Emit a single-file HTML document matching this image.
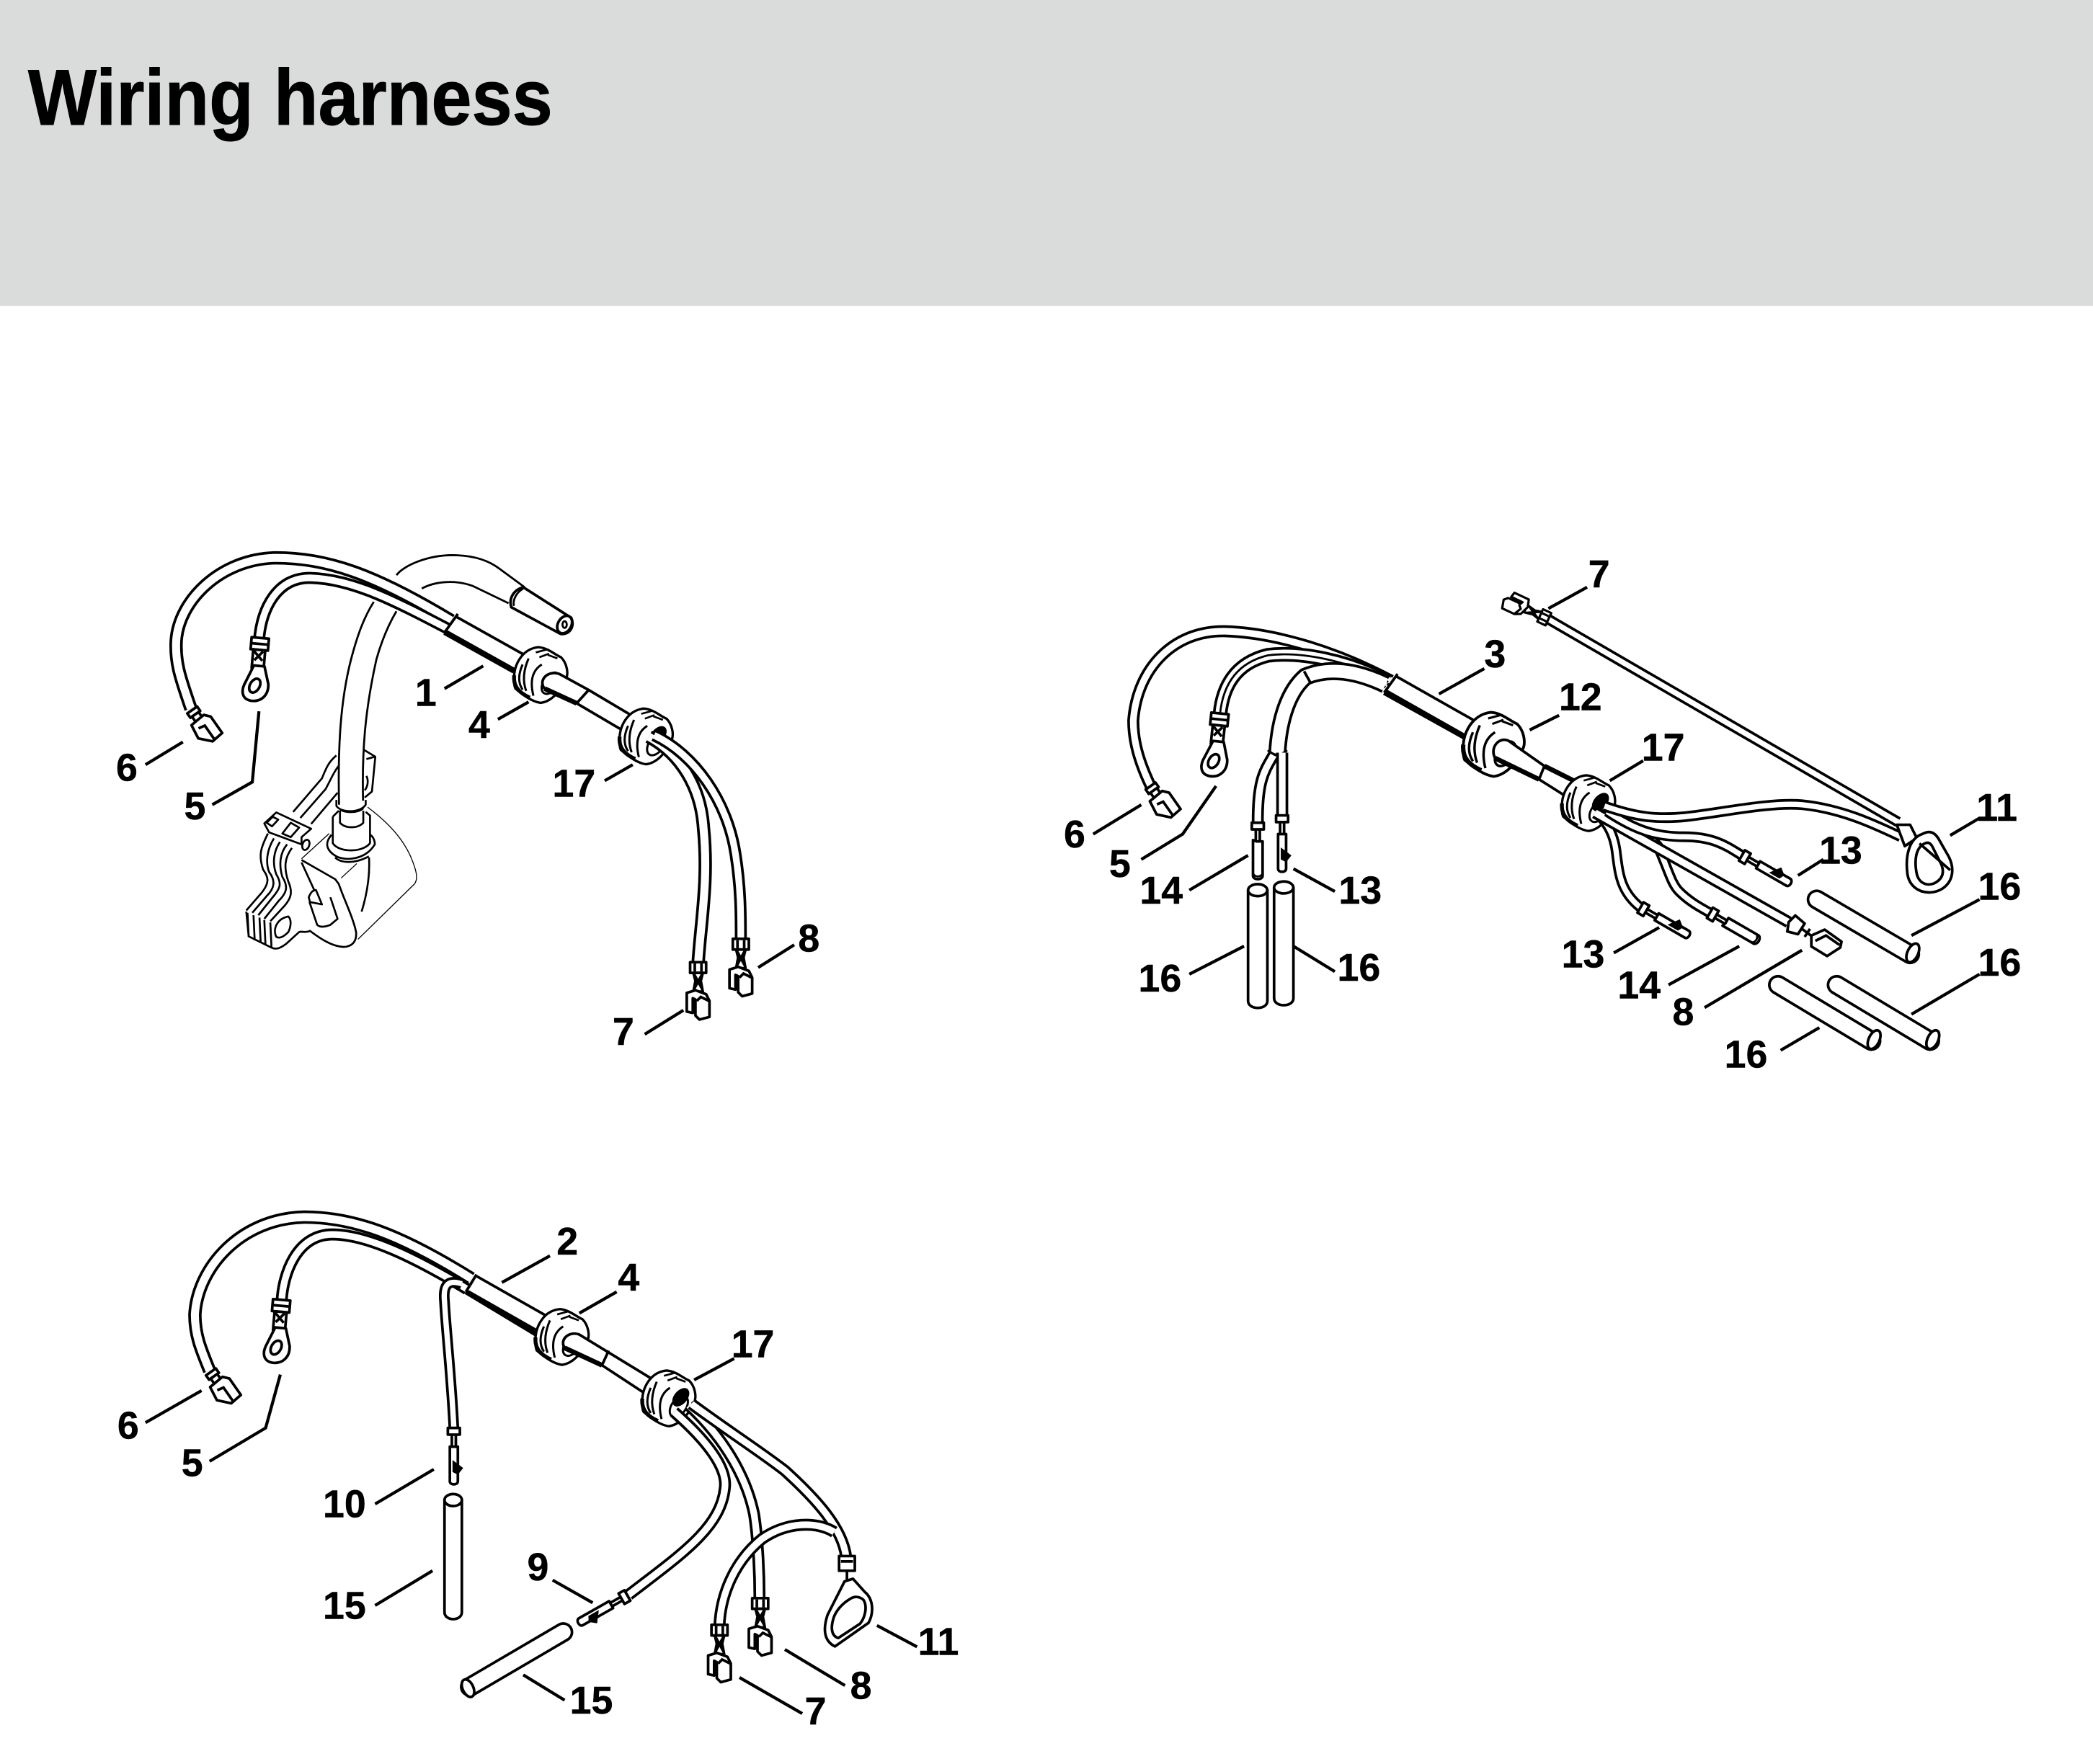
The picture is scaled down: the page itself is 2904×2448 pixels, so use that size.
<!DOCTYPE html>
<html><head><meta charset="utf-8"><style>
html,body{margin:0;padding:0;background:#fff}
svg{display:block}
.t{font-family:"Liberation Sans",sans-serif;font-weight:700;font-size:29px;text-anchor:middle;fill:#000;stroke:#000;stroke-width:.25}
.l{fill:none;stroke:#000;stroke-width:2.3}
.n{fill:#fff;stroke:#000;stroke-width:2;stroke-linejoin:round}
.m{fill:none;stroke:#000;stroke-width:1.5}
.s{fill:none;stroke:#000;stroke-width:2}
.h{fill:none;stroke:#000;stroke-width:3.6}
.k,.f{fill:none}
.k{stroke:#000}.f{stroke:#fff}
.k15{stroke-width:15}.f15{stroke-width:11}
.k13{stroke-width:13.5}.f13{stroke-width:9.5}
.k11{stroke-width:11}.f11{stroke-width:7}
.k10{stroke-width:10}.f10{stroke-width:6}
.k9{stroke-width:9}.f9{stroke-width:5}
.k8{stroke-width:8}.f8{stroke-width:4}
.k7{stroke-width:7.5}.f7{stroke-width:3.5}
</style></head><body>
<svg xmlns="http://www.w3.org/2000/svg" width="2904" height="2448" viewBox="0 0 1568 1321.8">
<defs>
<g id="gr" transform="translate(-37.8 -42.3) scale(.18)">
  <path d="M100 260C95 190 135 125 200 118C240 120 270 150 295 160C320 185 325 225 318 245C290 310 250 345 210 350C175 345 140 320 105 290C100 280 100 270 100 260Z" fill="#fff" stroke="#000" stroke-width="10"/>
  <path d="M100 235C95 285 125 310 165 328" fill="none" stroke="#000" stroke-width="16"/>
  <path d="M135 190C115 235 118 270 135 295M160 165C138 215 135 260 150 300M215 190C175 215 165 260 180 320" fill="none" stroke="#000" stroke-width="9"/>
  <path d="M190 140L235 128M240 150L280 165M205 160L245 145" fill="none" stroke="#000" stroke-width="8"/>
  <ellipse cx="252" cy="268" rx="30" ry="50" transform="rotate(35 252 268)" fill="#fff" stroke="#000" stroke-width="9"/>
</g>
<g id="gr17">
  <use href="#gr"/>
  <ellipse cx="9" cy="-1" rx="5" ry="8" transform="rotate(40 9 -1)" fill="#000"/>
</g>
<g id="bl">
  <path class="n" d="M-6 0H6V8H-6Z"/><path class="s" d="M-2.5 1V7M2.5 1V7"/>
  <path class="n" d="M-3.5 8L-2 14L-3.5 22H3.5L2 14L3.5 8Z"/><path class="s" d="M-3 9L3 20M3 9L-3 20"/>
  <path class="n" d="M-8.5 23L-2 21L6 24L8.5 29V41L1 43L-2 40V28L-4 27V38L-8.5 37Z"/><path class="s" d="M-1 29L2 26L8 29"/>
</g>
<g id="sh">
  <path class="n" d="M-4.5 0H4.5V4H-4.5Z"/><path class="n" d="M-3 4H3V9H-3Z"/>
  <path class="n" d="M-7 9L5 8L8.5 12V27L-1 28L-8.5 20Z"/><path class="s" d="M-4 14L1 15V27"/>
</g>
<g id="ring">
  <path class="n" d="M-6.5 0H6.5V9H-6.5Z"/><path class="s" d="M-6 4.5H6"/>
  <path class="n" d="M-4.5 9H4.5V23H-4.5Z"/><path class="s" d="M-4 10L3 17M3 10L-3 17"/>
  <path class="n" d="M-3 21H5L9 34C10 42 5 48 -3 47.5C-9 47 -11 42 -9 36Z"/>
  <ellipse cx="-1" cy="36" rx="3.6" ry="5.6" class="n" transform="rotate(25 -1 36)"/>
</g>
<g id="p14">
  <path class="n" d="M-4.5 0H4.5V5H-4.5Z"/><path class="s" d="M-1.5 5V14M1.5 5V14"/>
  <path class="n" d="M-3.6 13L-1 14H3.6V40C3 43 -3 43 -3.6 40Z"/><path class="m" d="M-3.6 38C-2 41 2 41 3.6 38"/>
</g>
<g id="p13">
  <path class="n" d="M-4.5 0H4.5V5H-4.5Z"/><path class="s" d="M-1.5 5V14M1.5 5V14"/>
  <path class="n" d="M-3 14H3V40C3 43 -3 43 -3 40Z"/><path d="M-1 24L7 30L3 35L-1 33Z" fill="#000"/>
</g>
<path id="d1a" d="M143 531C136 510 131 498 132 480C134 450 165 419 206 418C245 418 280 430 338 465"/>
<path id="d1b" d="M194 480C196 455 208 433 232 433C265 434 295 450 341 474"/>
<path id="d1c" d="M486 552C510 565 525 590 527 620C531 660 525 690 523 722"/>
<path id="d1d" d="M490 551C520 565 545 600 551 640C555 665 555 685 555 704"/>
<path id="d2a" d="M862 589C853 570 849 555 849 540C852 500 880 472 918 473C950 474 995 485 1042 510"/>
<path id="d2b" d="M914 535C916 515 925 497 950 491C975 488 1010 495 1040 511"/>
<path id="d2c" d="M957 564C958 545 963 520 978 507C995 500 1015 502 1038 513"/>
<path id="d2d" d="M1202 604C1225 612 1240 614 1262 612C1290 609 1325 601 1350 603C1380 606 1405 618 1424 627"/>
<path id="d2e" d="M1204 608C1225 622 1240 627 1262 627C1285 627 1295 635 1305 641"/>
<path id="d2f" d="M1195 609L1340 691"/>
<path id="d2g" d="M1199 610C1222 618 1235 625 1242 634C1250 652 1252 662 1258 668C1265 675 1272 679 1281 684"/>
<path id="d2h" d="M1199 612C1207 620 1210 630 1211 640C1213 655 1214 668 1229 680"/>
<path id="d2i" d="M1160 464L1422 616"/>
<path id="d2l" d="M954 566C947 578 942 585 942.3 617"/>
<path id="d2r" d="M960.6 564V611"/>
<path id="d3a" d="M157 1027C150 1010 146 1000 146 985C148 950 180 913 228 912C265 912 300 925 353 958"/>
<path id="d3b" d="M211 975C212 955 222 925 249 925C275 925 310 942 350 966"/>
<path id="d3c" d="M346 962C334 958 332 965 333 975C334 995 338 1030 340 1070"/>
<path id="d3d" d="M505 1058C530 1080 545 1100 543 1115C540 1145 510 1165 471 1195"/>
<path id="d3e" d="M516 1053C545 1080 560 1110 565 1135C568 1155 569 1180 569 1198"/>
<path id="d3f" d="M518 1052C545 1072 570 1088 588 1102C610 1122 632 1145 634 1168"/>
<path id="d3g" d="M625 1148C612 1140 590 1140 571 1153C550 1170 540 1195 539 1218"/>
</defs>

<rect width="1568" height="1321.8" fill="#fff"/>
<rect width="1568" height="229.3" fill="#dadcdb"/>
<text x="21" y="93.5" font-family="Liberation Sans, sans-serif" font-weight="700" font-size="59" textLength="393" lengthAdjust="spacingAndGlyphs" stroke="#000" stroke-width=".5">Wiring harness</text>

<!-- DIAGRAM 1 -->
<g>
<path class="m" d="M254 603C253 560 255 525 263 494C268 475 273 462 280 451M272 600C271 560 274 530 282 494C286 480 291 468 297 458M297 431C302 424 320 416 339 416C355 416 366 420 374 426L393 440M316 441C325 436 340 434 354 439L381 452"/>
<path class="n" d="M392 440C385 442 381 448 383 455L420 475C426 476 431 470 428 463Z"/>
<ellipse cx="423" cy="468" rx="5" ry="7" class="n" transform="rotate(30 423 468)"/><ellipse cx="423" cy="468" rx="1.6" ry="2.5" class="m"/>
<path class="m" d="M392 441C387 444 384 449 385 454"/>
<!-- coil -->
<g transform="translate(162 540) scale(.18)" fill="none" stroke="#000" stroke-width="8" stroke-linejoin="round">
  <path d="M500 145C470 170 460 190 440 240L320 380M508 190C485 220 475 250 455 285L350 405M505 300L395 430"/>
  <path d="M612 120L662 150L648 295L618 320M625 160L660 150M625 230C635 250 630 275 618 290"/>
  <path d="M500 330V355C520 385 600 385 622 350V330M515 370C540 385 590 385 612 365"/>
  <path fill="#fff" d="M485 400V510C510 555 610 555 640 510V395L620 380C610 400 530 390 510 375Z" stroke="none"/>
  <path d="M515 375V425C535 450 590 450 612 425V375M485 400V510C510 550 610 550 640 510V395L622 380M510 375L485 400"/>
  <path d="M480 475C445 515 465 545 500 565C540 585 620 580 660 515C660 495 650 480 640 475M495 570C520 595 580 595 635 565"/>
  <path stroke-width="4" d="M630 360C710 420 780 490 815 580C835 630 840 660 825 680L590 910M355 575L470 470M520 655L585 595"/>
  <path d="M355 580L495 660L510 680C530 740 570 820 582 880C585 915 570 940 530 942C480 940 430 905 390 875C370 885 355 875 345 880L290 930C270 945 250 955 230 945L135 898L125 795M355 590L410 710"/>
  <path d="M636 570C640 650 625 730 605 795"/>
  <path d="M385 735C395 710 405 705 415 705L440 765L390 755ZM475 735L505 825L475 850C450 860 430 860 420 850L388 755"/>
  <path d="M300 815C250 825 235 870 250 900C265 910 285 895 300 880C310 860 315 830 300 815Z"/>
  <ellipse cx="373" cy="517" rx="14" ry="22" transform="rotate(20 373 517)"/>
  <path d="M215 470C185 530 175 560 195 620C215 650 225 670 190 715L125 790M240 490C210 540 205 590 220 630C250 670 240 700 210 730L150 800M265 505C235 550 235 600 250 640C275 680 265 700 235 735L175 810M295 515C265 550 260 600 275 650C300 690 295 715 260 750L200 825M315 530C285 570 280 610 300 670C320 715 310 740 285 770L225 835"/>
  <path d="M130 800L135 900M155 810L160 915M180 820L185 925M200 830L205 935M225 840L230 945"/>
  <path d="M200 428L250 382L395 450L355 485V515L220 465Z" fill="#fff"/>
  <path d="M210 425L235 400L258 412L232 440ZM275 470L310 425L345 445L310 485Z"/>
</g>
<use href="#d1a" class="k k10"/><use href="#d1a" class="f f10"/>
<use href="#d1b" class="k k9"/><use href="#d1b" class="f f9"/>
<path d="M338 467.5L389 496" class="k k15"/><path d="M338 467.5L389 496" class="f f15"/>
<path d="M343 460L333 474" class="s"/><path d="M333 474L385 503" class="h"/>
<use href="#gr" transform="translate(405 506)"/>
<path class="n" d="M419 505L441 517L473 536L466 547L432 527L408 516C403 510 410 502 419 505Z"/>
<path class="s" d="M441 517L432 527"/><path class="h" d="M408 516L432 527"/>
<use href="#gr17" transform="translate(484 552)"/>
<use href="#d1c" class="k k10"/><use href="#d1c" class="f f10"/>
<use href="#d1d" class="k k9"/><use href="#d1d" class="f f9"/>
<use href="#bl" transform="translate(523 721)"/>
<use href="#bl" transform="translate(555 703.5)"/>
<use href="#ring" transform="translate(195 478) rotate(5)"/>
<use href="#sh" transform="translate(144 532) rotate(-35)"/>
<path class="l" d="M333 516L362 499M373 539L396 526M453 585L474 573M568 725L595 708M483 775L512 757M109 573L137 556M159 603L189 586L194 533"/>
<text class="t" x="319" y="529">1</text><text class="t" x="359" y="553">4</text><text class="t" x="430" y="597">17</text><text class="t" x="606" y="713">8</text><text class="t" x="467" y="783">7</text><text class="t" x="95" y="585">6</text><text class="t" x="146" y="614">5</text>
</g>

<!-- DIAGRAM 2 -->
<g>
<use href="#d2a" class="k k9"/><use href="#d2a" class="f f9"/>
<use href="#d2b" class="k k11"/><use href="#d2b" class="f f11"/><use href="#d2b" class="m"/>
<use href="#d2c" class="k k13"/><use href="#d2c" class="f f13"/>
<path class="s" d="M977 503L982 512"/>
<path class="n" d="M950 562C954 567 960 567 964 562" style="fill:none"/>
<path d="M1042 512L1102 546" class="k k15"/><path d="M1042 512L1102 546" class="f f15"/>
<path class="s" d="M1047 505L1037 519"/><path class="h" d="M1037 519L1098 553"/>
<use href="#gr" transform="translate(1119 558) scale(1.15)"/>
<path class="n" d="M1130 555L1157 574L1179 585L1172 596L1153 584L1120 568C1116 560 1123 552 1130 555Z"/>
<path class="s" d="M1157 574L1153 584"/><path class="h" d="M1120 568L1153 584M1157 574L1179 585"/>
<use href="#gr17" transform="translate(1190 602)"/>
<use href="#d2i" class="k k8"/><use href="#d2i" class="f f8"/>
<use href="#d2h" class="k k8"/><use href="#d2h" class="f f8"/>
<use href="#d2g" class="k k8"/><use href="#d2g" class="f f8"/>
<use href="#d2f" class="k k9"/><use href="#d2f" class="f f9"/>
<use href="#d2e" class="k k8"/><use href="#d2e" class="f f8"/>
<use href="#d2d" class="k k8"/><use href="#d2d" class="f f8"/>
<!-- split -->
<use href="#d2l" class="k k9"/><use href="#d2l" class="f f9"/>
<use href="#d2r" class="k k9"/><use href="#d2r" class="f f9"/>
<use href="#p14" transform="translate(942.3 616.5)"/>
<use href="#p13" transform="translate(960.5 611)"/>
<!-- terminals -->
<use href="#bl" transform="translate(1160 464) rotate(115) scale(.85)"/>
<path class="n" d="M1340 691L1345 686L1352 692L1347 700L1339 698Z"/><path class="s" d="M1350 696L1358 702M1352 702L1356 696"/>
<path class="n" d="M1357 701L1367 696.6L1379.6 705.6L1378.7 710L1368.8 716.4L1357 709.2Z"/><path class="s" d="M1360 705L1368 701L1378 708"/>
<use href="#p13" transform="translate(1305 641) rotate(-60)"/>
<use href="#p13" transform="translate(1229 680) rotate(-60)"/>
<use href="#p14" transform="translate(1281 684) rotate(-60)"/>
<use href="#ring" transform="translate(914 534.6) rotate(6)"/>
<use href="#sh" transform="translate(862 589) rotate(-35)"/>
<path class="n" d="M1421 618L1431 618L1436 628L1427 634Z"/>
<path class="n" fill-rule="evenodd" d="M1440 625C1431 628 1427 640 1429 655C1431 668 1445 672 1455 666C1464 660 1464 650 1460 642L1452 628C1448 622 1444 623 1440 625ZM1442 632C1435 635 1434 645 1436 655C1438 663 1446 665 1452 660C1457 656 1456 650 1453 645L1448 635C1446 631 1444 631 1442 632Z"/>
<path class="s" d="M1438 632L1461 652"/>
<!-- vertical tubes -->
<path class="n" d="M935 667V750C935 757 949.5 757 949.5 750V667Z"/><ellipse class="n" cx="942.2" cy="667" rx="7.2" ry="4.5"/>
<path class="n" d="M954.5 665V748C954.5 755 969 755 969 748V665Z"/><ellipse class="n" cx="961.7" cy="665" rx="7.2" ry="4.5"/>
<!-- diagonal tubes -->
<path class="k k15" stroke-linecap="round" d="M1361 674L1431 715"/><path class="f f15" stroke-linecap="round" d="M1361 674L1431 715"/><ellipse class="n" cx="1433" cy="714" rx="4" ry="7.5" transform="rotate(25 1433 714)"/>
<path class="k k15" stroke-linecap="round" d="M1376 738L1446 780"/><path class="f f15" stroke-linecap="round" d="M1376 738L1446 780"/><ellipse class="n" cx="1448" cy="779" rx="4" ry="7.5" transform="rotate(25 1448 779)"/>
<path class="k k15" stroke-linecap="round" d="M1332 738L1402 780"/><path class="f f15" stroke-linecap="round" d="M1332 738L1402 780"/><ellipse class="n" cx="1404" cy="779" rx="4" ry="7.5" transform="rotate(25 1404 779)"/>
<path class="l" d="M1160 456L1189 440M1078 520L1112 501M1146 547L1168 536M1206 585L1231 570M1461 626L1483 613M1347 656L1366 644M1432 701L1483 674M1432 760L1483 730M819 625L855 603M855 644L886 625L911 589M891 667L935 641M969 651L1000 668M891 730L932 709M969 709L1000 728M1209 714L1243 695M1250 738L1303 709M1277 755L1350 712M1334 787L1363 770"/>
<text class="t" x="1198" y="440">7</text><text class="t" x="1120" y="500">3</text><text class="t" x="1184" y="532">12</text><text class="t" x="1246" y="570">17</text><text class="t" x="1496" y="615">11</text><text class="t" x="1379" y="647">13</text><text class="t" x="1498" y="674">16</text><text class="t" x="1498" y="731">16</text><text class="t" x="805" y="635">6</text><text class="t" x="839" y="657">5</text><text class="t" x="870" y="677">14</text><text class="t" x="1019" y="677">13</text><text class="t" x="869" y="743">16</text><text class="t" x="1018" y="735">16</text><text class="t" x="1186" y="725">13</text><text class="t" x="1228" y="748">14</text><text class="t" x="1261" y="768">8</text><text class="t" x="1308" y="800">16</text>
</g>

<!-- DIAGRAM 3 -->
<g>
<use href="#d3a" class="k k10"/><use href="#d3a" class="f f10"/>
<use href="#d3b" class="k k9"/><use href="#d3b" class="f f9"/>
<use href="#d3c" class="k k8"/><use href="#d3c" class="f f8"/>
<path d="M354 962L405 991" class="k k15"/><path d="M354 962L405 991" class="f f15"/>
<path class="s" d="M357 955L349 968"/><path class="h" d="M349 968L402 1000"/>
<use href="#gr" transform="translate(421 1002)"/>
<path class="n" d="M434 1000L488 1033L483 1044L451 1023L423 1010C419 1004 426 997 434 1000Z"/>
<path class="h" d="M423 1010L451 1023"/><path class="s" d="M456 1012L451 1023"/>
<use href="#gr17" transform="translate(501 1048)"/>
<use href="#d3d" class="k k9"/><use href="#d3d" class="f f9"/>
<use href="#d3e" class="k k9"/><use href="#d3e" class="f f9"/>
<use href="#d3f" class="k k9"/><use href="#d3f" class="f f9"/>
<use href="#d3g" class="k k9"/><use href="#d3g" class="f f9"/>
<use href="#bl" transform="translate(539 1217.5)"/>
<use href="#bl" transform="translate(569.5 1197.5)"/>
<use href="#p13" transform="translate(340 1070)"/>
<use href="#ring" transform="translate(211 974) rotate(5)"/>
<use href="#sh" transform="translate(158 1028) rotate(-35)"/>
<use href="#p13" transform="translate(470 1195.5) rotate(60.5)"/>
<path class="n" d="M628.6 1166H640.4V1177H628.6Z"/><path class="s" d="M634.5 1177V1185M630 1170H639"/>
<path class="n" fill-rule="evenodd" d="M632.7 1185L620 1210C616 1222 618 1230 625.5 1233.7L650.7 1216C655 1208 654 1198 648 1193L639 1183ZM637 1198C630 1202 626 1208 624.6 1212C622 1220 623 1226 628 1227.4L644.4 1216.6C648 1212 650 1204 647 1199C644 1196 640 1196 637 1198Z"/>
<path class="n" d="M333 1124V1208C333 1215 346 1215 346 1208V1124Z"/><ellipse class="n" cx="339.5" cy="1124" rx="6.5" ry="4.5"/>
<path class="k k15" stroke-linecap="round" d="M422 1223L352 1264"/><path class="f f15" stroke-linecap="round" d="M422 1223L352 1264"/><ellipse class="n" cx="350.6" cy="1265" rx="4" ry="7" transform="rotate(-25 350.6 1265)"/>
<path class="l" d="M376 961L412 941M434 984L462 968M520 1034L550 1018M109 1066L151 1042M157 1095L199 1070L210 1030M281 1127L325 1101M281 1203L324 1177M414 1184L444 1201M392 1255L423 1274M657 1218L687 1234M588 1236L633 1263M554 1257L601 1284"/>
<text class="t" x="425" y="940">2</text><text class="t" x="471" y="967">4</text><text class="t" x="564" y="1017">17</text><text class="t" x="96" y="1078">6</text><text class="t" x="144" y="1106">5</text><text class="t" x="258" y="1137">10</text><text class="t" x="258" y="1213">15</text><text class="t" x="403" y="1184">9</text><text class="t" x="443" y="1284">15</text><text class="t" x="703" y="1240">11</text><text class="t" x="645" y="1273">8</text><text class="t" x="611" y="1292">7</text>
</g>
</svg>
</body></html>
